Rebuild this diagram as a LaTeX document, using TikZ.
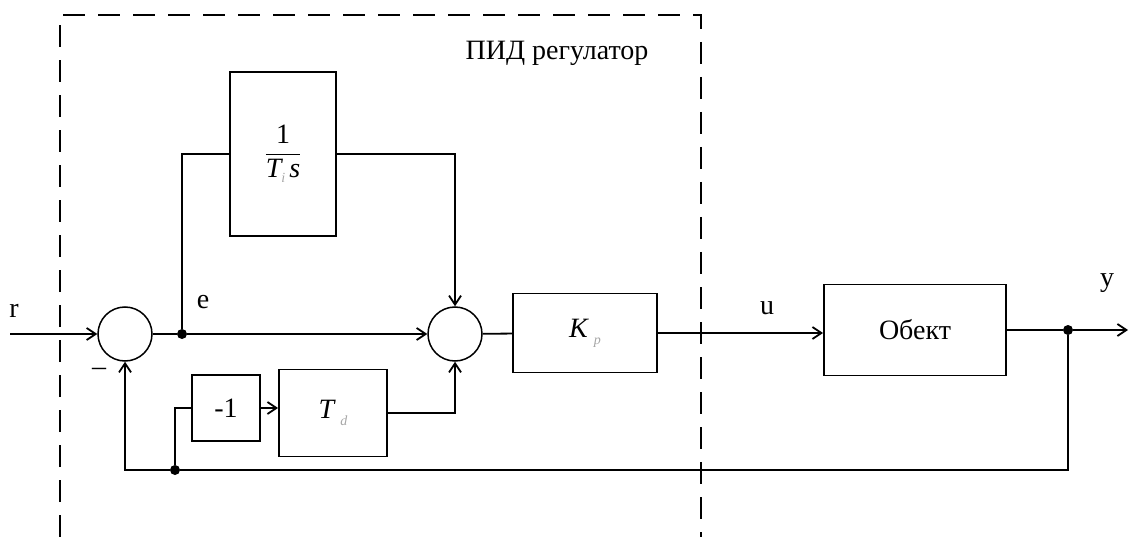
\documentclass[tikz,border=0pt]{standalone}
\usepackage{amsmath}
\usepackage{fontspec}
\setmainfont{Liberation Serif}
\usepackage{tikz}
\usetikzlibrary{arrows.meta,positioning,calc}
\newcommand{\gsub}[1]{\textcolor{black!35}{\fontsize{14}{14}\selectfont\textit{#1}}}
\tikzset{
  >={Straight Barb[length=9pt,width=12pt]},
  sumc/.style={circle,draw,line width=1.5pt,minimum size=54pt,inner sep=0pt},
  pbox/.style={draw,line width=1.8pt,inner sep=0pt},
  wire/.style={line width=1.8pt},
  flow/.style={->,line width=1.8pt},
  jdot/.style={circle,fill=black,inner sep=0pt,minimum size=10pt},
  sglbl/.style={inner sep=0pt},
  pidframe/.style={line width=1.8pt,dash pattern=on 22pt off 13pt},
}

\begin{document}
\begin{tikzpicture}[x=1pt,y=-1pt,every node/.style={font=\fontsize{28}{32}\selectfont}]
  \useasboundingbox (0,0) rectangle (1129,537);
  % controller frame
  \draw[pidframe] (60,537) -- (60,15) -- (701,15) -- (701,537);
  \node[anchor=base,sglbl] (pidlbl) at (557,60) {ПИД регулатор};
  % blocks
  \node[sumc] (s1) at (125,334) {};
  \node[sumc] (s2) at (455,334) {};
  \node[pbox,minimum width=106pt,minimum height=164pt] (int) at (283,154)
    {$\dfrac{\text{1}}{\textit{T}\raisebox{-5pt}{\gsub{i}}\,\textit{s}}$};
  \node[pbox,minimum width=144pt,minimum height=79pt] (kp) at (585,333)
    {\textit{K}\,\raisebox{-7pt}{\gsub{p}}};
  \node[pbox,minimum width=68pt,minimum height=66pt] (neg) at (226,408) {-1};
  \node[pbox,minimum width=108pt,minimum height=87pt] (td) at (333,413)
    {\textit{T}\,\raisebox{-7pt}{\gsub{d}}};
  \node[pbox,minimum width=182pt,minimum height=91pt] (obj) at (915,330) {Обект};
  % junctions
  \node[jdot] (je) at (182,334) {};
  \node[jdot] (jy) at (1068,330) {};
  \node[jdot] (jf) at (175,470) {};
  \coordinate (rin) at (10,334);
  \coordinate (yout) at (1128,330);
  % signals
  \draw[flow] (rin) -- (s1);
  \draw[wire] (s1) -- (je);
  \draw[flow] (je) -- (s2);
  \draw[wire] (je) |- (int.west);
  \draw[flow] (int.east) -| (s2.north);
  \draw[wire] (s2) -- (kp);
  \draw[flow] (kp.east) -- (kp.east -| obj.west);
  \draw[wire] (obj) -- (jy);
  \draw[flow] (jy) -- (yout);
  \draw[wire] (jy) |- (jf);
  \draw[flow] (jf) -| (s1.south);
  \draw[wire] (jf) |- (neg.west);
  \draw[flow] (neg.east) -- (neg.east -| td.west);
  \draw[flow] (td.east) -| (s2.south);
  % labels
  \node[sglbl] (rlbl) at (14,311) {r};
  \node[sglbl] (elbl) at (203,302) {e};
  \node[sglbl] (minus) at (99,372) {–};
  \node[sglbl] (ulbl) at (767,308) {u};
  \node[sglbl] (ylbl) at (1107,283) {y};
\end{tikzpicture}
\end{document}
